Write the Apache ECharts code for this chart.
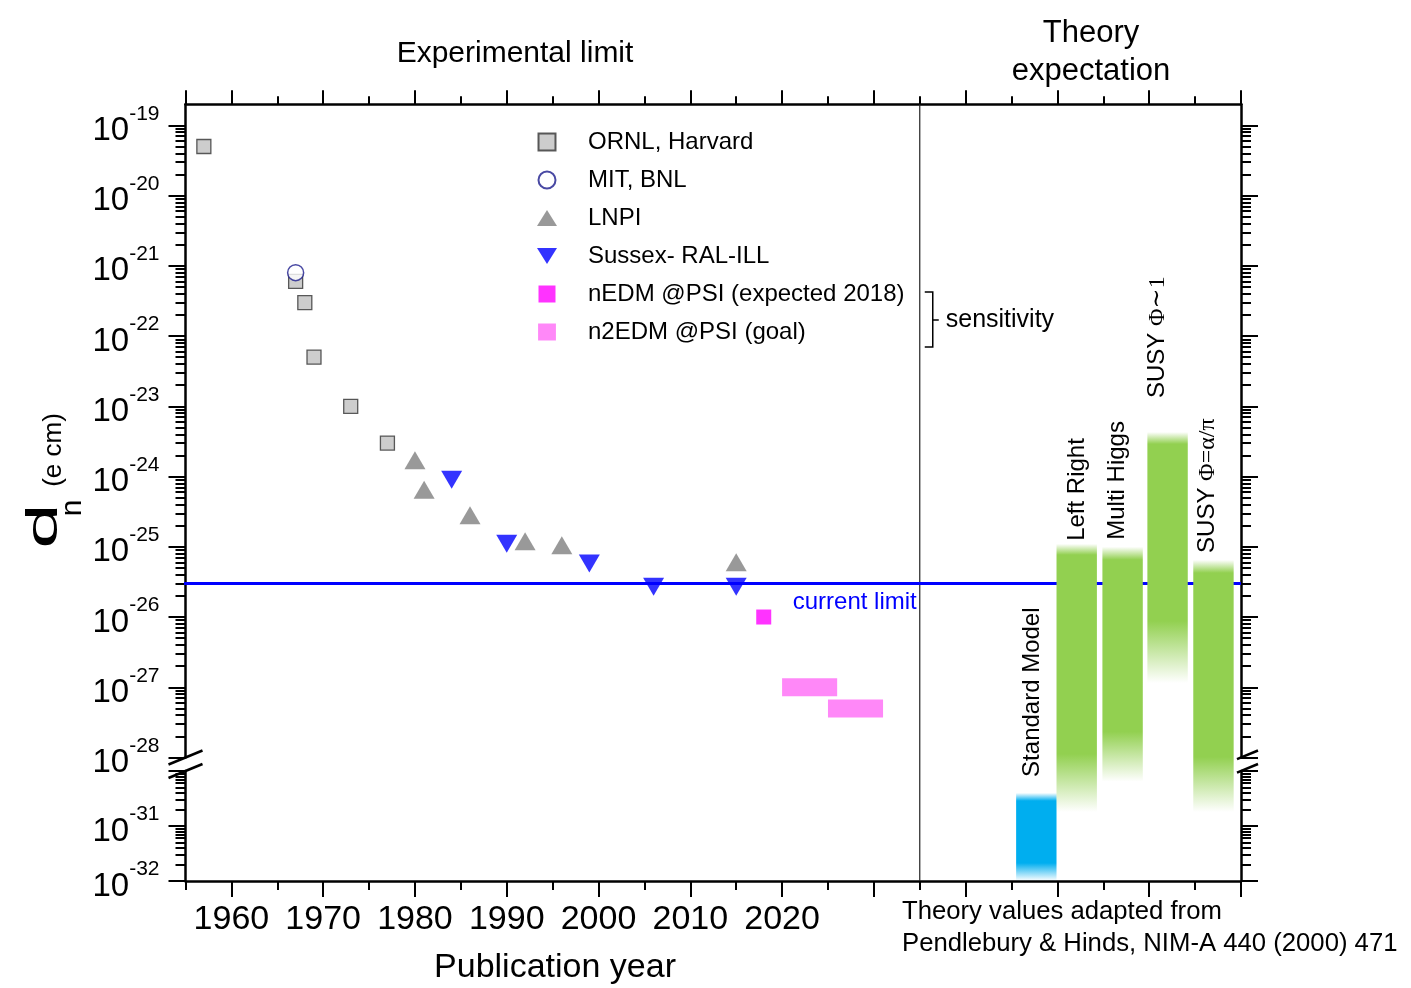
<!DOCTYPE html>
<html>
<head>
<meta charset="utf-8">
<title>Neutron EDM limits</title>
<script src="https://cdn.jsdelivr.net/npm/echarts@6/dist/echarts.min.js"></script>
<style>
  html, body { margin: 0; padding: 0; background: #fff; }
  #chart { width: 1411px; height: 988px; }
</style>
</head>
<body>
<div id="chart"></div>
<script>
// ---------- data (d_n limits in e·cm) ----------
const ornlYears   = [1957, 1967, 1968, 1969, 1973, 1977];
const ornlLimits  = [5e-20, 6e-22, 3e-22, 5e-23, 1e-23, 3e-24];
const mitYears    = [1967];
const mitLimits   = [8e-22];
const lnpiYears   = [1980, 1981, 1986, 1992, 1996, 2015];
const lnpiLimits  = [1.7e-24, 6.5e-25, 2.8e-25, 1.2e-25, 1.05e-25, 6e-26];
const sussexYears = [1984, 1990, 1999, 2006, 2015];
const sussexLimits= [9e-25, 1.1e-25, 5.8e-26, 2.7e-26, 2.7e-26];
const nedmYears   = [2018];
const nedmLimits  = [1e-26];
const n2edmStart  = [2020, 2025];
const n2edmEnd    = [2026, 2031];
const n2edmLimits = [1e-27, 5e-28];
const currentLimit = 3e-26;

const theoryModels = ['Standard Model', 'Left Right', 'Multi Higgs', 'SUSY Φ∼1', 'SUSY Φ=α/π'];
const theoryX      = [2047.7, 2052.1, 2057.1, 2062.0, 2067.0];
const theoryLow    = [1e-32, 1.8e-31, 6.4e-31, 1.15e-27, 1.8e-31];
const theoryHigh   = [4e-31, 1.1e-25, 1.0e-25, 4.3e-24, 6.5e-26];

const seriesNames = ['ORNL, Harvard', 'MIT, BNL', 'LNPI', 'Sussex- RAL-ILL',
                     'nEDM @PSI (expected 2018)', 'n2EDM @PSI (goal)'];

const yearMajorTicks    = [1960, 1970, 1980, 1990, 2000, 2010, 2020, 2030, 2040, 2050, 2060, 2070];
const yearMinorTicks    = [1955, 1965, 1975, 1985, 1995, 2005, 2015, 2025, 2035, 2045, 2055, 2065];
const yearLabels        = [1960, 1970, 1980, 1990, 2000, 2010, 2020];

// ---------- layout & style constants ----------
const FONT  = '"Liberation Sans", Arial, Helvetica, sans-serif';
const SERIF = '"Liberation Serif", "DejaVu Serif", serif';
const L = Math.log10;
const X_MIN = 1955, X_MAX = 2070, THEORY_START = 2035;
// the value axis runs on decimal exponents; the panel is broken between 1e-28 and 1e-30
const UPPER_MIN = -28, UPPER_MAX = L(2e-19);
const LOWER_MIN = -32, LOWER_MAX = -30;
const LIMIT_LINE_FROM = 1949.7;
const THEORY_BAR_WIDTH = 4.4;          // years
const N2EDM_BAR_HEIGHT = 18;           // px
const THEORY_COLORS = ['#00aeef', '#92d050', '#92d050', '#92d050', '#92d050'];
const TOP_FADE    = [8, 11, 13, 12, 13];
const BOTTOM_FADE = [18, 58, 50, 62, 55];
const LABEL_GAP   = [16, 3, 7, 34, 7];
const LABEL_DX    = [-4, 1, -5, -10, -6];

function decades(lo, hi) { const out = []; for (let e = lo; e <= hi; e++) out.push(e); return out; }
function minors(lo, hi) {
  const out = [];
  for (let e = lo; e < hi; e++) for (let k = 2; k <= 9; k++) out.push(e + L(k));
  return out;
}

const upperDecades = decades(-28, -19);
const upperMinor   = minors(-28, -19);
const lowerDecades = decades(-32, -30);
const lowerMinor   = minors(-32, -30);
const lowerLabels  = decades(-32, -31);

// the top frame carries a long tick at its left corner as well
const topMajorTicks = [X_MIN].concat(yearMajorTicks);
const topMinorTicks = yearMinorTicks.filter(v => v !== X_MIN);

const points = (years, limits) => years.map((y, i) => [y, L(limits[i])]);

const chart = echarts.init(document.getElementById('chart'), null, { renderer: 'canvas' });

const tickLine = { color: '#000', width: 2 };
const axisLine = { show: true, onZero: false, lineStyle: { color: '#000', width: 2.5 } };

function xAxisDef(grid, pos, ticks, len, line, extra) {
  return Object.assign({
    gridIndex: grid, type: 'value', position: pos, min: X_MIN, max: X_MAX,
    axisLine: line ? axisLine : { show: false },
    axisTick: { show: true, inside: false, customValues: ticks, length: len, lineStyle: tickLine },
    axisLabel: { show: false },
    splitLine: { show: false }
  }, extra || {});
}

const powRich = {
  b: { fontSize: 33, lineHeight: 44, verticalAlign: 'bottom', fontFamily: FONT, color: '#000' },
  s: { fontSize: 21, verticalAlign: 'top', fontFamily: FONT, color: '#000' }
};

function yAxisDef(grid, pos, min, max, ticks, len, line, labels) {
  return {
    gridIndex: grid, type: 'value', position: pos, min: min, max: max,
    axisLine: line ? axisLine : { show: false },
    axisTick: { show: true, inside: false, customValues: ticks, length: len, lineStyle: tickLine },
    axisLabel: labels ? {
      show: true, customValues: labels, margin: 26, hideOverlap: false,
      formatter: v => '{b|10}{s|' + Math.round(v) + '}', rich: powRich, color: '#000'
    } : { show: false },
    splitLine: { show: false }
  };
}

// pixel y of an exponent: upper panel through api.coord, lower panel through the lower cartesian
function valueToY(api, x, e) {
  if (e >= UPPER_MIN) return api.coord([x, e])[1];
  const p = chart.convertToPixel({ xAxisIndex: 2, yAxisIndex: 4 }, [x, e]);
  return p ? p[1] : api.coord([x, e])[1];
}

function fade(color, a) {
  const c = echarts.color.parse(color);
  return 'rgba(' + c[0] + ',' + c[1] + ',' + c[2] + ',' + a + ')';
}
const greekRich = txt => txt.replace(/(Φ\S*)/, '{g|$1}');

const upperRect = { left: 185.5, right: 170, top: 104.2, height: 653.3, outerBoundsMode: 'none' };
const lowerRect = { left: 185.5, right: 170, top: 771, height: 110, outerBoundsMode: 'none' };

const option = {
  animation: false,
  backgroundColor: '#fff',
  textStyle: { fontFamily: FONT },
  title: [
    { text: 'Experimental limit', left: 510, top: 49, textAlign: 'center', textVerticalAlign: 'middle',
      textStyle: { fontSize: 30, fontWeight: 'normal', color: '#000', fontFamily: FONT } },
    { text: 'Theory\nexpectation', left: 1086, top: 47, textAlign: 'center', textVerticalAlign: 'middle',
      textStyle: { fontSize: 31, fontWeight: 'normal', color: '#000', fontFamily: FONT, lineHeight: 38 } }
  ],
  legend: {
    orient: 'vertical', left: 537, top: 130, padding: 0,
    itemWidth: 20, itemHeight: 17, itemGap: 14, selectedMode: false,
    textStyle: { color: '#000', fontSize: 24, fontFamily: FONT, lineHeight: 24, padding: [0, 0, 0, 26] },
    data: [
      { name: seriesNames[0], icon: 'path://M0,0H1V1H0Z' },
      { name: seriesNames[1], icon: 'circle' },
      { name: seriesNames[2], icon: 'path://M1,0L2,1.6L0,1.6Z' },
      { name: seriesNames[3], icon: 'path://M0,0L2,0L1,1.6Z' },
      { name: seriesNames[4], icon: 'path://M0,0H1V1H0Z' },
      { name: seriesNames[5], icon: 'path://M0,0H1.05V1H0Z' }
    ]
  },
  // 0/1: upper panel (major / minor ticks), 2/3: lower panel (major / minor ticks)
  grid: [upperRect, upperRect, lowerRect, lowerRect],
  xAxis: [
    xAxisDef(0, 'top', topMajorTicks, 14, true),
    xAxisDef(1, 'top', topMinorTicks, 8, false),
    xAxisDef(2, 'bottom', yearMajorTicks, 16, true, {
      axisLabel: { show: true, customValues: yearLabels, margin: 22, hideOverlap: false,
                   formatter: v => String(v), fontSize: 34, color: '#000', fontFamily: FONT }
    }),
    xAxisDef(3, 'bottom', yearMinorTicks, 9, false)
  ],
  yAxis: [
    yAxisDef(0, 'left',  UPPER_MIN, UPPER_MAX, upperDecades, 17, true, upperDecades),
    yAxisDef(0, 'right', UPPER_MIN, UPPER_MAX, upperDecades, 17, true),
    yAxisDef(1, 'left',  UPPER_MIN, UPPER_MAX, upperMinor, 10, false),
    yAxisDef(1, 'right', UPPER_MIN, UPPER_MAX, upperMinor, 10, false),
    yAxisDef(2, 'left',  LOWER_MIN, LOWER_MAX, lowerDecades, 17, true, lowerLabels),
    yAxisDef(2, 'right', LOWER_MIN, LOWER_MAX, lowerDecades, 17, true),
    yAxisDef(3, 'left',  LOWER_MIN, LOWER_MAX, lowerMinor, 10, false),
    yAxisDef(3, 'right', LOWER_MIN, LOWER_MAX, lowerMinor, 10, false)
  ],
  series: [
    {
      name: 'current limit', type: 'line', xAxisIndex: 0, yAxisIndex: 0, clip: false, z: 2,
      symbol: 'none', silent: true,
      data: [[LIMIT_LINE_FROM, L(currentLimit)], [X_MAX, L(currentLimit)]],
      lineStyle: { color: '#0000ff', width: 3 }
    },
    {
      name: 'current limit label', type: 'custom', xAxisIndex: 0, yAxisIndex: 0, z: 2, silent: true,
      data: [[THEORY_START, L(currentLimit)]],
      renderItem: function (params, api) {
        const p = api.coord([api.value(0), api.value(1)]);
        return {
          type: 'text', x: p[0] - 3, y: p[1] + 7,
          style: { text: 'current limit', fontSize: 24, fontFamily: FONT, fill: '#0000ff',
                   align: 'right', verticalAlign: 'top' }
        };
      }
    },
    {
      name: seriesNames[0], type: 'scatter', xAxisIndex: 0, yAxisIndex: 0, z: 3,
      symbol: 'rect', symbolSize: 14,
      itemStyle: { color: '#c0c0c0', borderColor: '#333', borderWidth: 1.3 },
      data: points(ornlYears, ornlLimits)
    },
    {
      name: seriesNames[1], type: 'scatter', xAxisIndex: 0, yAxisIndex: 0, z: 4,
      symbol: 'circle', symbolSize: 16,
      itemStyle: { color: '#fff', borderColor: '#1c1c8c', borderWidth: 1.5 },
      data: points(mitYears, mitLimits)
    },
    {
      name: seriesNames[2], type: 'scatter', xAxisIndex: 0, yAxisIndex: 0, z: 3,
      symbol: 'triangle', symbolSize: [21, 18],
      itemStyle: { color: '#808080' },
      data: points(lnpiYears, lnpiLimits)
    },
    {
      name: seriesNames[3], type: 'scatter', xAxisIndex: 0, yAxisIndex: 0, z: 3,
      symbol: 'triangle', symbolSize: [21, 18], symbolRotate: 180,
      itemStyle: { color: '#0000ff' },
      data: points(sussexYears, sussexLimits)
    },
    {
      name: seriesNames[4], type: 'scatter', xAxisIndex: 0, yAxisIndex: 0, z: 3,
      symbol: 'rect', symbolSize: 15,
      itemStyle: { color: '#ff00ff' },
      data: points(nedmYears, nedmLimits)
    },
    {
      name: seriesNames[5], type: 'custom', xAxisIndex: 0, yAxisIndex: 0, z: 3,
      itemStyle: { color: '#ff88f8' },
      dimensions: ['start', 'end', 'limit'],
      encode: { x: [0, 1], y: 2 },
      data: n2edmStart.map((s, i) => [s, n2edmEnd[i], L(n2edmLimits[i])]),
      renderItem: function (params, api) {
        const p0 = api.coord([api.value(0), api.value(2)]);
        const p1 = api.coord([api.value(1), api.value(2)]);
        return {
          type: 'rect',
          shape: { x: p0[0], y: p0[1] - N2EDM_BAR_HEIGHT / 2, width: p1[0] - p0[0], height: N2EDM_BAR_HEIGHT },
          style: { fill: '#ff88f8' }
        };
      }
    },
    {
      name: 'theory', type: 'custom', xAxisIndex: 0, yAxisIndex: 0, z: 5, clip: false, silent: true,
      dimensions: ['x', 'low', 'high'],
      encode: { x: 0, y: [1, 2] },
      data: theoryX.map((x, i) => [x, L(theoryLow[i]), L(theoryHigh[i])]),
      renderItem: function (params, api) {
        const i = params.dataIndex;
        const xc = api.value(0);
        const xl = api.coord([xc - THEORY_BAR_WIDTH / 2, UPPER_MIN])[0];
        const xr = api.coord([xc + THEORY_BAR_WIDTH / 2, UPPER_MIN])[0];
        const yTop = valueToY(api, xc, api.value(2));
        const yBot = valueToY(api, xc, api.value(1));
        const h = yBot - yTop;
        const col = THEORY_COLORS[i];
        const grad = new echarts.graphic.LinearGradient(0, 0, 0, 1, [
          { offset: 0, color: fade(col, 0) },
          { offset: TOP_FADE[i] / h, color: col },
          { offset: 1 - BOTTOM_FADE[i] / h, color: col },
          { offset: 1, color: fade(col, 0) }
        ]);
        return {
          type: 'group',
          children: [
            { type: 'rect', shape: { x: xl, y: yTop, width: xr - xl, height: h }, style: { fill: grad } },
            {
              type: 'text', x: (xl + xr) / 2 + LABEL_DX[i], y: yTop - LABEL_GAP[i], rotation: Math.PI / 2,
              style: {
                text: greekRich(theoryModels[i]), fontSize: 24, fontFamily: FONT, fill: '#000',
                align: 'left', verticalAlign: 'middle',
                rich: { g: { fontSize: 24, fontFamily: SERIF, fill: '#000' } }
              }
            }
          ]
        };
      }
    }
  ]
};

chart.setOption(option);

// ---------- annotations positioned from the axes ----------
const up = (x, v) => chart.convertToPixel({ xAxisIndex: 0, yAxisIndex: 0 }, [x, v]);
const lo = (x, v) => chart.convertToPixel({ xAxisIndex: 2, yAxisIndex: 4 }, [x, v]);
const leftX = up(X_MIN, UPPER_MIN)[0];
const rightX = up(X_MAX, UPPER_MIN)[0];
const breakTop = up(X_MIN, UPPER_MIN)[1];
const breakBottom = lo(X_MIN, LOWER_MAX)[1];
const dividerX = up(THEORY_START, UPPER_MIN)[0];
const plotTop = up(X_MIN, UPPER_MAX)[1];
const plotBottom = lo(X_MIN, LOWER_MIN)[1];

// slanted break strokes through an axis end; slope 14 px over 34 px
const breakMark = (cx, cy, left, right) => ({
  type: 'line', z: 10, silent: true,
  shape: { x1: cx - left, y1: cy + left * 14 / 34, x2: cx + right, y2: cy - right * 14 / 34 },
  style: { stroke: '#000', lineWidth: 2.5 }
});
const txt = (text, x, y, size, extra) => ({
  type: 'text', x: x, y: y, silent: true,
  style: Object.assign({ text: text, fontSize: size, fontFamily: FONT, fill: '#000',
                         align: 'left', verticalAlign: 'middle' }, extra || {})
});
const rotated = (el, extra) => Object.assign(el, { rotation: Math.PI / 2 }, extra || {});

chart.setOption({
  graphic: [
    breakMark(leftX, breakTop, 17, 17), breakMark(leftX, breakBottom, 17, 17),
    breakMark(rightX, breakTop, 4, 17), breakMark(rightX, breakBottom, 4, 17),
    { type: 'line', z: 1, silent: true,
      shape: { x1: dividerX, y1: plotTop, x2: dividerX, y2: plotBottom },
      style: { stroke: '#222', lineWidth: 1.2 } },
    // y axis title
    rotated(txt('d', 45, 526, 44, { align: 'center' }), { scaleX: 1.85 }),
    rotated(txt('n', 73, 508, 30, { align: 'center' })),
    rotated(txt('(e cm)', 54, 450, 26, { align: 'center' })),
    // x axis title
    txt('Publication year', 555, 968, 34, { align: 'center' }),
    // sensitivity bracket
    { type: 'polyline', silent: true,
      shape: { points: [[dividerX + 5, 292], [dividerX + 13, 292], [dividerX + 13, 347], [dividerX + 5, 347]] },
      style: { stroke: '#000', lineWidth: 1.5, fill: null } },
    { type: 'line', silent: true,
      shape: { x1: dividerX + 13, y1: 320, x2: dividerX + 19, y2: 320 },
      style: { stroke: '#000', lineWidth: 1.5 } },
    txt('sensitivity', dividerX + 26, 320, 25),
    // source note
    txt('Theory values adapted from', 902, 912, 25.7),
    txt('Pendlebury & Hinds, NIM-A 440 (2000) 471', 902, 944, 25.7)
  ]
});
</script>
</body>
</html>
